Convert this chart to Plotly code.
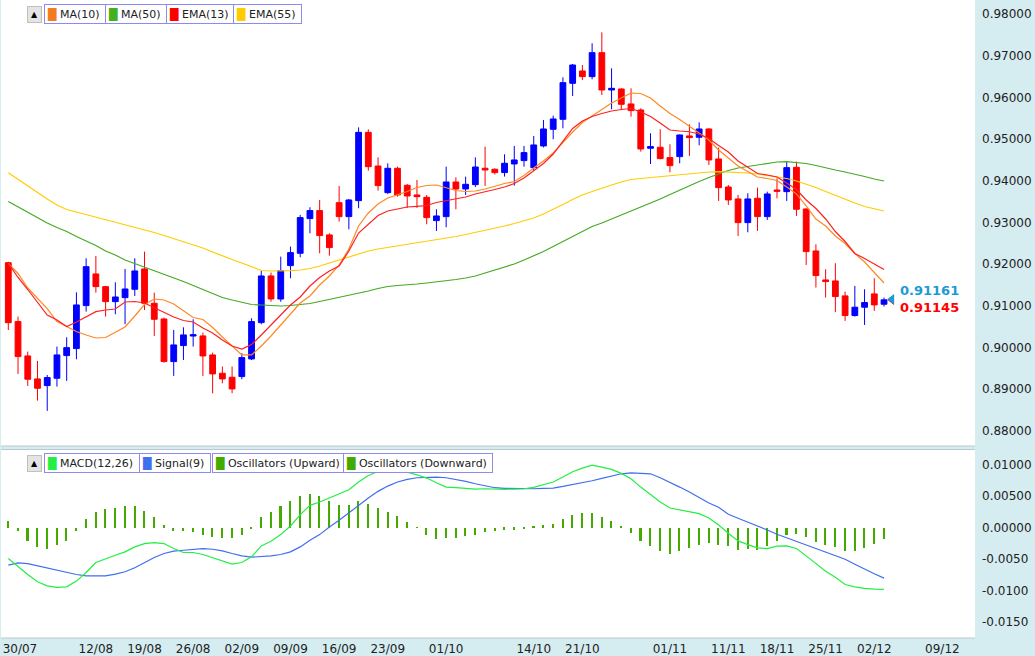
import plotly.graph_objects as go

# ---------------- data ----------------
open_ = [0.92036,0.90623,0.89800,0.89249,0.89089,0.89265,0.89808,0.89976,0.91007,0.91766,
         0.91462,0.91102,0.91198,0.91398,0.91886,0.91063,0.90687,0.89664,0.90048,0.90277,
         0.90280,0.89824,0.89385,0.89289,0.89305,0.89728,0.90599,0.91719,0.91165,0.91966,
         0.92262,0.93093,0.93285,0.92702,0.93476,0.93141,0.93524,0.95162,0.94355,0.93716,
         0.94300,0.93892,0.93660,0.93604,0.93045,0.93141,0.93972,0.93804,0.93908,0.94301,
         0.94277,0.94197,0.94404,0.94484,0.94316,0.94836,0.95235,0.95475,0.96338,0.96634,
         0.96498,0.97073,0.96178,0.96202,0.95843,0.95699,0.94780,0.94804,0.94556,0.94580,
         0.95076,0.95044,0.95243,0.94524,0.93852,0.93565,0.92997,0.93581,0.93141,0.93780,
         0.93740,0.94324,0.93325,0.92318,0.91623,0.91599,0.91240,0.90768,0.90968,0.91288,
         0.91040]
high = [0.92060,0.90743,0.89904,0.89680,0.89345,0.90024,0.90248,0.91326,0.92141,0.92197,
        0.91480,0.91566,0.91886,0.92141,0.92301,0.91318,0.90720,0.90423,0.90487,0.90679,
        0.90360,0.89880,0.89545,0.89545,0.89864,0.90703,0.91847,0.91800,0.92182,0.92422,
        0.93181,0.93365,0.93540,0.92742,0.93876,0.93564,0.95282,0.95234,0.94563,0.94419,
        0.94340,0.93924,0.94020,0.93660,0.93317,0.94339,0.94084,0.94100,0.94563,0.94820,
        0.94300,0.94636,0.94836,0.94836,0.95076,0.95459,0.95563,0.96482,0.96800,0.96777,
        0.97297,0.97560,0.96697,0.96218,0.96218,0.95739,0.95140,0.95236,0.94876,0.95110,
        0.95355,0.95403,0.95259,0.94795,0.93900,0.93661,0.93700,0.93836,0.93740,0.94060,
        0.94460,0.94460,0.93340,0.92478,0.91879,0.92023,0.91343,0.91479,0.91399,0.91663,
        0.91200]
low = [0.90422,0.89369,0.89081,0.88730,0.88482,0.89065,0.89201,0.89720,0.90863,0.91318,
       0.90743,0.90799,0.90559,0.91238,0.90903,0.90280,0.89640,0.89321,0.89704,0.90024,
       0.89321,0.88905,0.89145,0.88905,0.89241,0.89700,0.90560,0.91100,0.91100,0.91663,
       0.92166,0.92741,0.92262,0.92206,0.93021,0.92837,0.93341,0.94243,0.93764,0.93684,
       0.93620,0.93349,0.93349,0.92957,0.92797,0.92885,0.93317,0.93660,0.93850,0.93877,
       0.94150,0.94101,0.93885,0.94340,0.94250,0.94800,0.94996,0.95259,0.96034,0.96418,
       0.96434,0.96058,0.95715,0.95699,0.95539,0.94700,0.94404,0.94516,0.94205,0.94420,
       0.94596,0.94852,0.94380,0.93517,0.93421,0.92678,0.92766,0.92798,0.93061,0.93580,
       0.93517,0.93157,0.91983,0.91439,0.91200,0.90848,0.90640,0.90744,0.90544,0.90880,
       0.90984]
close = [0.90597,0.89784,0.89241,0.89025,0.89281,0.89824,0.89999,0.91023,0.91941,0.91462,
         0.91102,0.91214,0.91406,0.91838,0.91063,0.90679,0.89664,0.90064,0.90304,0.90309,
         0.89800,0.89369,0.89249,0.89009,0.89760,0.90623,0.91718,0.91167,0.91847,0.92278,
         0.93117,0.93285,0.92686,0.92398,0.93141,0.93540,0.95162,0.94339,0.93884,0.94300,
         0.93660,0.93636,0.93620,0.93117,0.93157,0.93972,0.93804,0.93916,0.94331,0.94260,
         0.94197,0.94420,0.94500,0.94676,0.94860,0.95243,0.95483,0.96354,0.96777,0.96498,
         0.97073,0.96178,0.96218,0.95835,0.95683,0.94764,0.94820,0.94532,0.94364,0.95099,
         0.95036,0.95243,0.94500,0.93836,0.93541,0.92997,0.93565,0.93141,0.93685,0.93748,
         0.94316,0.93317,0.92302,0.91727,0.91583,0.91224,0.90768,0.90968,0.91080,0.91024,
         0.91145]

ma10 = [0.92021,0.91777,0.91429,0.91189,0.90937,0.90626,0.90506,0.90386,0.90302,0.90230,
        0.90242,0.90374,0.90494,0.90758,0.91033,0.91165,0.91141,0.91045,0.90890,0.90722,
        0.90674,0.90482,0.90254,0.90038,0.89823,0.89823,0.90038,0.90278,0.90542,0.90830,
        0.91069,0.91237,0.91501,0.91717,0.91981,0.92364,0.92916,0.93228,0.93444,0.93588,
        0.93660,0.93743,0.93839,0.93887,0.93899,0.93827,0.93767,0.93743,0.93755,0.93803,
        0.93875,0.93935,0.93983,0.94127,0.94307,0.94475,0.94667,0.94931,0.95170,0.95398,
        0.95554,0.95710,0.95866,0.95986,0.96106,0.96094,0.95986,0.95794,0.95614,0.95470,
        0.95314,0.95146,0.94978,0.94738,0.94547,0.94355,0.94223,0.94091,0.94055,0.94007,
        0.93851,0.93684,0.93396,0.93084,0.92916,0.92676,0.92496,0.92257,0.92053,0.91789,
        0.91549]
ma50 = [0.93504,0.93372,0.93240,0.93108,0.92988,0.92880,0.92784,0.92664,0.92556,0.92448,
        0.92316,0.92220,0.92100,0.92017,0.91933,0.91837,0.91753,0.91669,0.91585,0.91489,
        0.91393,0.91297,0.91201,0.91141,0.91081,0.91033,0.91021,0.91005,0.90997,0.91009,
        0.91033,0.91057,0.91105,0.91153,0.91201,0.91261,0.91309,0.91357,0.91417,0.91465,
        0.91489,0.91501,0.91525,0.91549,0.91573,0.91597,0.91633,0.91669,0.91717,0.91789,
        0.91861,0.91933,0.92005,0.92100,0.92196,0.92304,0.92424,0.92544,0.92664,0.92784,
        0.92904,0.92988,0.93084,0.93168,0.93264,0.93360,0.93468,0.93564,0.93672,0.93780,
        0.93888,0.93984,0.94080,0.94163,0.94247,0.94307,0.94343,0.94379,0.94415,0.94451,
        0.94458,0.94439,0.94415,0.94367,0.94307,0.94259,0.94211,0.94163,0.94103,0.94043,
        0.93995]
ema13 = [0.92021,0.91681,0.91393,0.91093,0.90782,0.90662,0.90506,0.90614,0.90746,0.90861,
         0.90902,0.90926,0.91093,0.91105,0.91069,0.90961,0.90854,0.90734,0.90650,0.90614,
         0.90470,0.90350,0.90182,0.90038,0.89966,0.90074,0.90302,0.90542,0.90782,0.91021,
         0.91213,0.91477,0.91681,0.91837,0.91957,0.92316,0.92748,0.92964,0.93168,0.93276,
         0.93324,0.93372,0.93388,0.93408,0.93480,0.93528,0.93564,0.93612,0.93684,0.93732,
         0.93791,0.93851,0.93935,0.94067,0.94235,0.94415,0.94643,0.94955,0.95255,0.95434,
         0.95542,0.95614,0.95674,0.95710,0.95734,0.95650,0.95542,0.95386,0.95218,0.95194,
         0.95177,0.95122,0.95014,0.94846,0.94691,0.94475,0.94319,0.94175,0.94139,0.94091,
         0.93947,0.93791,0.93540,0.93336,0.93084,0.92784,0.92544,0.92257,0.92137,0.92005,
         0.91873]
ema55 = [0.94194,0.94031,0.93875,0.93707,0.93563,0.93419,0.93312,0.93252,0.93192,0.93132,
         0.93072,0.93012,0.92952,0.92892,0.92832,0.92760,0.92688,0.92616,0.92544,0.92472,
         0.92388,0.92292,0.92196,0.92112,0.92028,0.91933,0.91849,0.91837,0.91837,0.91844,
         0.91861,0.91897,0.91957,0.92028,0.92100,0.92172,0.92244,0.92316,0.92364,0.92400,
         0.92436,0.92472,0.92508,0.92544,0.92580,0.92616,0.92664,0.92712,0.92760,0.92808,
         0.92856,0.92916,0.92976,0.93036,0.93108,0.93204,0.93312,0.93432,0.93552,0.93660,
         0.93743,0.93827,0.93899,0.93971,0.94031,0.94055,0.94079,0.94103,0.94127,0.94151,
         0.94175,0.94199,0.94211,0.94218,0.94211,0.94199,0.94187,0.94163,0.94127,0.94091,
         0.94055,0.93995,0.93923,0.93839,0.93743,0.93647,0.93552,0.93468,0.93384,0.93324,
         0.93276]

macd = [-0.00493,-0.00624,-0.00746,-0.00862,-0.00925,-0.00951,-0.00941,-0.00851,-0.00714,-0.00556,
        -0.00493,-0.00440,-0.00387,-0.00308,-0.00255,-0.00239,-0.00255,-0.00334,-0.00397,-0.00397,
        -0.00429,-0.00482,-0.00535,-0.00582,-0.00556,-0.00466,-0.00292,-0.00218,-0.00113,0.00024,
        0.00204,0.00351,0.00404,0.00467,0.00525,0.00599,0.00721,0.00826,0.00889,0.00905,
        0.00905,0.00879,0.00836,0.00784,0.00710,0.00641,0.00631,0.00615,0.00610,0.00615,
        0.00605,0.00605,0.00610,0.00615,0.00636,0.00678,0.00721,0.00800,0.00884,0.00942,
        0.00989,0.00958,0.00921,0.00858,0.00773,0.00641,0.00520,0.00404,0.00309,0.00283,
        0.00256,0.00219,0.00151,0.00040,-0.00092,-0.00213,-0.00271,-0.00324,-0.00334,-0.00297,
        -0.00292,-0.00334,-0.00450,-0.00577,-0.00693,-0.00788,-0.00904,-0.00941,-0.00967,-0.00978,
        -0.00983]
signal = [-0.00598,-0.00561,-0.00572,-0.00608,-0.00640,-0.00677,-0.00714,-0.00746,-0.00767,-0.00772,
          -0.00767,-0.00740,-0.00703,-0.00640,-0.00556,-0.00477,-0.00413,-0.00376,-0.00361,-0.00345,
          -0.00334,-0.00345,-0.00371,-0.00413,-0.00450,-0.00471,-0.00466,-0.00450,-0.00429,-0.00387,
          -0.00308,-0.00202,-0.00113,0.00009,0.00114,0.00235,0.00351,0.00467,0.00573,0.00657,
          0.00721,0.00763,0.00789,0.00800,0.00800,0.00789,0.00763,0.00731,0.00694,0.00668,
          0.00631,0.00620,0.00615,0.00615,0.00615,0.00620,0.00626,0.00652,0.00678,0.00705,
          0.00742,0.00778,0.00815,0.00852,0.00868,0.00863,0.00852,0.00789,0.00721,0.00641,
          0.00562,0.00473,0.00388,0.00320,0.00209,0.00146,0.00088,0.00030,-0.00039,-0.00107,
          -0.00165,-0.00218,-0.00281,-0.00339,-0.00397,-0.00450,-0.00503,-0.00582,-0.00661,-0.00735,
          -0.00804]
osc = [0.00105,-0.00042,-0.00200,-0.00306,-0.00332,-0.00274,-0.00200,-0.00042,0.00148,0.00253,
       0.00306,0.00316,0.00343,0.00343,0.00274,0.00179,0.00042,-0.00042,-0.00053,-0.00063,
       -0.00105,-0.00148,-0.00158,-0.00158,-0.00116,-0.00004,0.00169,0.00248,0.00343,0.00422,
       0.00512,0.00543,0.00501,0.00422,0.00369,0.00359,0.00422,0.00385,0.00311,0.00253,
       0.00185,0.00100,0.00004,-0.00105,-0.00174,-0.00158,-0.00158,-0.00132,-0.00105,-0.00063,
       -0.00053,-0.00026,-0.00026,-0.00005,0.00026,0.00053,0.00069,0.00142,0.00211,0.00237,
       0.00237,0.00174,0.00116,0.00026,-0.00079,-0.00200,-0.00290,-0.00359,-0.00411,-0.00359,
       -0.00316,-0.00264,-0.00237,-0.00264,-0.00290,-0.00343,-0.00332,-0.00353,-0.00280,-0.00211,
       -0.00105,-0.00095,-0.00148,-0.00222,-0.00264,-0.00306,-0.00359,-0.00359,-0.00316,-0.00253,
       -0.00174]

tick_idx = [1.2, 9, 14, 19, 24, 29, 34, 39, 45, 54, 59, 68, 74, 79, 84, 89, 96]
tick_txt = ["30/07", "12/08", "19/08", "26/08", "02/09", "09/09", "16/09", "23/09", "01/10",
            "14/10", "21/10", "01/11", "11/11", "18/11", "25/11", "02/12", "09/12"]
main_ticks = [0.88, 0.89, 0.90, 0.91, 0.92, 0.93, 0.94, 0.95, 0.96, 0.97, 0.98]
macd_ticks = [0.01, 0.005, 0.0, -0.005, -0.01, -0.015]
macd_tick_txt = ["0.01000", "0.00500", "0.00000", "-0.0050", "-0.0100", "-0.0150"]
ask_price = 0.91161
bid_price = 0.91145

# ---------------- figure ----------------
x = list(range(len(close)))
FONT = "DejaVu Sans"
fig = go.Figure()

fig.add_trace(go.Candlestick(
    x=x, open=open_, high=high, low=low, close=close,
    increasing=dict(line=dict(color="#0000ff", width=1), fillcolor="#0000ff"),
    decreasing=dict(line=dict(color="#ff0000", width=1), fillcolor="#ff0000"),
    whiskerwidth=0, showlegend=False, xaxis="x", yaxis="y", hoverinfo="skip"))

line_specs = [(ma50, "#44aa22", "MA(50)"), (ema55, "#ffcc00", "EMA(55)"),
              (ma10, "#ff8820", "MA(10)"), (ema13, "#ff2020", "EMA(13)")]
for vals, col, nm in line_specs:
    fig.add_trace(go.Scatter(x=x, y=vals, mode="lines", name=nm,
                             line=dict(color=col, width=1.2),
                             showlegend=False, xaxis="x", yaxis="y"))

# last price markers
last_x = len(close) - 0.2
fig.add_trace(go.Scatter(x=[last_x], y=[bid_price], mode="markers",
                         marker=dict(symbol="triangle-left", size=9, color="#ff0000"),
                         showlegend=False, xaxis="x", yaxis="y"))
fig.add_trace(go.Scatter(x=[last_x], y=[ask_price], mode="markers",
                         marker=dict(symbol="triangle-left", size=9, color="#1a9bd7"),
                         showlegend=False, xaxis="x", yaxis="y"))

# MACD panel
up_x = [i for i, v in enumerate(osc) if v >= 0]
dn_x = [i for i, v in enumerate(osc) if v < 0]
fig.add_trace(go.Bar(x=up_x, y=[osc[i] for i in up_x], width=0.16, marker=dict(color="#44aa00", line=dict(width=0)),
                     name="Oscillators (Upward)", showlegend=False, xaxis="x2", yaxis="y2"))
fig.add_trace(go.Bar(x=dn_x, y=[osc[i] for i in dn_x], width=0.16, marker=dict(color="#44aa00", line=dict(width=0)),
                     name="Oscillators (Downward)", showlegend=False, xaxis="x2", yaxis="y2"))
fig.add_trace(go.Scatter(x=x, y=signal, mode="lines", line=dict(color="#3f6fef", width=1.2),
                         name="Signal(9)", showlegend=False, xaxis="x2", yaxis="y2"))
fig.add_trace(go.Scatter(x=x, y=macd, mode="lines", line=dict(color="#22ee44", width=1.2),
                         name="MACD(12,26)", showlegend=False, xaxis="x2", yaxis="y2"))

W, H = 1035, 656
ML, MR, MT, MB = 1, 60, 0, 18
PH = H - MT - MB  # 638
main_dom = [1 - 446 / PH, 1]
sub_dom = [0, 1 - 449.5 / PH]
xr = [-0.75, 99.35]

def px2paper_x(px):
    return (px - ML) / (W - ML - MR)

def px2paper_y(py):
    return 1 - (py - MT) / PH

annos = []
def legend_box(px_left, py_center, color, label):
    annos.append(dict(
        xref="paper", yref="paper", x=px2paper_x(px_left), y=px2paper_y(py_center),
        xanchor="left", yanchor="middle", showarrow=False,
        text=f"<span style='color:{color}'>█</span> {label} ",
        font=dict(family=FONT, size=11, color="#222222"),
        bgcolor="#ffffff", bordercolor="#8c8cf0", borderwidth=1, borderpad=2))

def button(py_center):
    annos.append(dict(
        xref="paper", yref="paper", x=px2paper_x(27), y=px2paper_y(py_center),
        xanchor="left", yanchor="middle", showarrow=False, text="▲",
        font=dict(family=FONT, size=8, color="#000000"),
        bgcolor="#e4e4e4", bordercolor="#c0c0c0", borderwidth=1, borderpad=3))

button(14)
legend_box(44, 14, "#f47c20", "MA(10)")
legend_box(105, 14, "#44b01c", "MA(50)")
legend_box(166, 14, "#ff0000", "EMA(13)")
legend_box(233, 14, "#ffcc00", "EMA(55)")
button(463)
legend_box(44, 463, "#22ee44", "MACD(12,26)")
legend_box(139, 463, "#3f6fef", "Signal(9)")
legend_box(212, 463, "#44aa00", "Oscillators (Upward)")
legend_box(343, 463, "#44aa00", "Oscillators (Downward)")

annos.append(dict(xref="x", yref="y", x=len(close) + 0.4, y=ask_price, yshift=9,
                  xanchor="left", yanchor="middle", showarrow=False,
                  text=f"<b>{ask_price:.5f}</b>", font=dict(family=FONT, size=13, color="#1a9bd7")))
annos.append(dict(xref="x", yref="y", x=len(close) + 0.4, y=bid_price, yshift=-8,
                  xanchor="left", yanchor="middle", showarrow=False,
                  text=f"<b>{bid_price:.5f}</b>", font=dict(family=FONT, size=13, color="#ff0000")))

shapes = [
    dict(type="line", xref="paper", yref="paper", x0=0, x1=1, y0=main_dom[0], y1=main_dom[0],
         line=dict(color="#b9c9cd", width=1)),
    dict(type="line", xref="paper", yref="paper", x0=0, x1=1, y0=sub_dom[1], y1=sub_dom[1],
         line=dict(color="#b9c9cd", width=1)),
    dict(type="line", xref="paper", yref="paper", x0=0, x1=1, y0=0, y1=0,
         line=dict(color="#b9c9cd", width=1)),
]

fig.update_layout(
    width=W, height=H,
    margin=dict(l=ML, r=MR, t=MT, b=MB),
    paper_bgcolor="#d5edf1", plot_bgcolor="#ffffff",
    showlegend=False, boxgap=0.15, bargap=0,
    font=dict(family=FONT, size=12, color="#222222"),
    xaxis=dict(domain=[0, 1], anchor="y", range=xr, showticklabels=False, showgrid=False,
               zeroline=False, rangeslider=dict(visible=False), fixedrange=True),
    yaxis=dict(domain=main_dom, anchor="x", side="right", range=[0.87640, 0.98336],
               tickvals=main_ticks, tickformat=".5f", showgrid=False, zeroline=False,
               ticks="", ticklabelstandoff=6, tickfont=dict(family=FONT, size=12, color="#222222")),
    xaxis2=dict(domain=[0, 1], anchor="y2", range=xr, tickvals=tick_idx, ticktext=tick_txt,
                showgrid=False, zeroline=False, ticks="", ticklabelstandoff=2,
                tickfont=dict(family=FONT, size=12, color="#222222")),
    yaxis2=dict(domain=sub_dom, anchor="x2", side="right", range=[-0.017532, 0.012373],
                tickvals=macd_ticks, ticktext=macd_tick_txt, showgrid=False, zeroline=False,
                ticks="", ticklabelstandoff=6, tickfont=dict(family=FONT, size=12, color="#222222")),
    annotations=annos, shapes=shapes,
)

fig.write_html("out.html")
